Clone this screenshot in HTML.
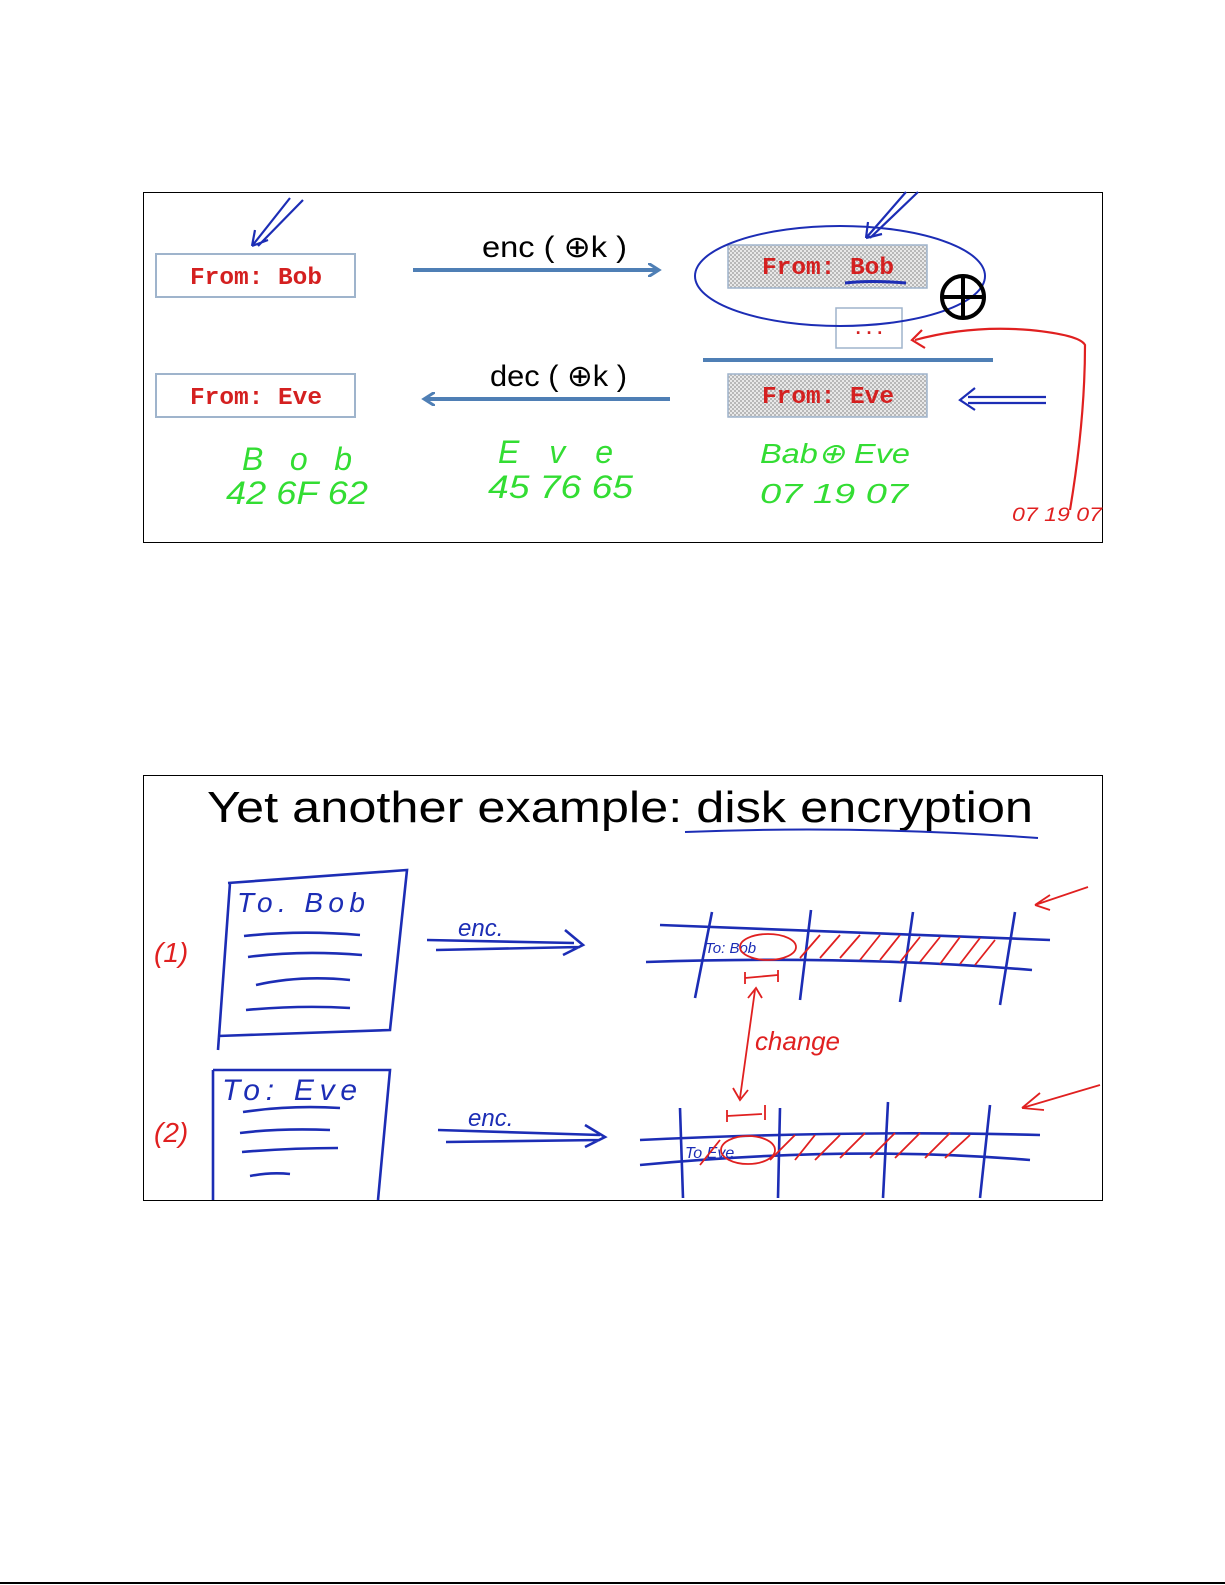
<!DOCTYPE html>
<html><head><meta charset="utf-8"><style>
html,body{margin:0;padding:0;background:#fff;}
svg{display:block;}
</style></head><body>
<svg width="1225" height="1585" viewBox="0 0 1225 1585" xmlns="http://www.w3.org/2000/svg">
<defs>
<pattern id="chk" width="4" height="4" patternUnits="userSpaceOnUse">
<rect width="4" height="4" fill="#e8e8e8"/><rect width="2" height="2" fill="#b8b8b8"/><rect x="2" y="2" width="2" height="2" fill="#b8b8b8"/>
</pattern>
<marker id="ab" markerWidth="14" markerHeight="14" refX="10" refY="7" orient="auto" markerUnits="userSpaceOnUse"><path d="M0,0 L11,7 L0,14" fill="none" stroke="#4f7fb5" stroke-width="3"/></marker>
</defs>
<!-- top slide -->
<rect x="143.5" y="192.5" width="959" height="350" fill="#fff" stroke="#000" stroke-width="1"/>
<g font-family="Liberation Mono, monospace" font-weight="bold" font-size="24" fill="#d42020" text-anchor="middle">
<rect x="156" y="254" width="199" height="43" fill="#fff" stroke="#9fb4cc" stroke-width="2"/>
<text x="256" y="284" textLength="132" lengthAdjust="spacingAndGlyphs">From: Bob</text>
<rect x="156" y="374" width="199" height="43" fill="#fff" stroke="#9fb4cc" stroke-width="2"/>
<text x="256" y="404" textLength="132" lengthAdjust="spacingAndGlyphs">From: Eve</text>
<rect x="728" y="245" width="199" height="43" fill="url(#chk)" stroke="#9fb4cc" stroke-width="1.5"/>
<text x="828" y="274" textLength="132" lengthAdjust="spacingAndGlyphs">From: Bob</text>
<rect x="728" y="374" width="199" height="43" fill="url(#chk)" stroke="#9fb4cc" stroke-width="1.5"/>
<text x="828" y="403" textLength="132" lengthAdjust="spacingAndGlyphs">From: Eve</text>
<rect x="836" y="308" width="66" height="40" fill="#fff" stroke="#9fb4cc" stroke-width="1.5"/>
<text x="869" y="334" font-size="18">...</text>
</g>
<line x1="413" y1="270" x2="658" y2="270" stroke="#4f7fb5" stroke-width="4" marker-end="url(#ab)"/>
<line x1="670" y1="399" x2="425" y2="399" stroke="#4f7fb5" stroke-width="4" marker-end="url(#ab)"/>
<line x1="703" y1="360" x2="993" y2="360" stroke="#4f7fb5" stroke-width="4"/>
<g font-family="Liberation Sans, sans-serif" font-size="30" fill="#000">
<text x="482" y="257" textLength="145" lengthAdjust="spacingAndGlyphs">enc ( ⊕k )</text>
<text x="490" y="386" textLength="137" lengthAdjust="spacingAndGlyphs">dec ( ⊕k )</text>
</g>
<ellipse cx="840" cy="276" rx="145" ry="50" fill="none" stroke="#1c2db5" stroke-width="2"/>
<path d="M845,283 Q870,280 906,283" stroke="#1c2db5" stroke-width="3" fill="none"/>
<circle cx="963" cy="297" r="21" fill="none" stroke="#000" stroke-width="4"/>
<line x1="942" y1="297" x2="984" y2="297" stroke="#000" stroke-width="4"/>
<line x1="963" y1="276" x2="963" y2="318" stroke="#000" stroke-width="4"/>
<g stroke="#1c2db5" stroke-width="2.2" fill="none">
<path d="M303,200 L258,246 M290,198 L252,246 M252,246 L255,230 M252,246 L268,240"/>
<path d="M918,192 L870,238 M906,192 L866,238 M866,238 L868,222 M866,238 L882,234"/>
<path d="M1046,397 L968,397 M1046,403 L968,403 M975,388 L960,400 L975,410"/>
</g>
<path d="M1070,510 Q1085,420 1085,345 Q1080,335 1030,330 Q970,325 915,340 M922,330 L912,340 L925,348" stroke="#e02020" stroke-width="2.2" fill="none"/>
<text x="1012" y="521" font-family="Liberation Sans, sans-serif" font-style="italic" font-size="19" fill="#e02020" textLength="90" lengthAdjust="spacingAndGlyphs">07 19 07</text>
<g font-family="Liberation Sans, sans-serif" font-style="italic" font-size="32" fill="#33dd33">
<text x="242" y="470" textLength="110">B  o  b</text>
<text x="226" y="504" textLength="142" lengthAdjust="spacingAndGlyphs">42 6F 62</text>
<text x="498" y="463" textLength="115">E  v  e</text>
<text x="488" y="498" textLength="145" lengthAdjust="spacingAndGlyphs">45 76 65</text>
<text x="760" y="463" font-size="28" textLength="150" lengthAdjust="spacingAndGlyphs">Bab⊕ Eve</text>
<text x="760" y="503" font-size="28" textLength="148" lengthAdjust="spacingAndGlyphs">07 19 07</text>
</g>
<!-- bottom slide -->
<rect x="143.5" y="775.5" width="959" height="425" fill="#fff" stroke="#000" stroke-width="1"/>
<text x="207" y="822" font-family="Liberation Sans, sans-serif" font-size="44" fill="#000" textLength="826" lengthAdjust="spacingAndGlyphs">Yet another example:  disk encryption</text>
<path d="M685,832 Q860,825 1038,838" stroke="#1c2db5" stroke-width="2" fill="none"/>
<g stroke="#1c2db5" stroke-width="2.6" fill="none">
<path d="M228,883 L407,870 L390,1030 L218,1036 M230,883 L218,1050"/>
<path d="M244,936 Q300,930 360,935 M248,957 Q300,950 362,955 M256,985 Q300,975 350,980 M246,1010 Q300,1005 350,1008"/>
<path d="M213,1070 L390,1070 L378,1200 M213,1070 L213,1200"/>
<path d="M243,1112 Q290,1105 340,1108 M240,1133 Q280,1128 330,1130 M242,1152 Q290,1148 338,1148 M250,1176 Q270,1172 290,1174"/>
<path d="M427,940 L574,943 M436,950 L580,947 M565,930 L583,945 L563,955"/>
<path d="M438,1130 L600,1135 M446,1142 L600,1140 M585,1125 L605,1137 L585,1147"/>
<path d="M660,925 Q850,932 1050,940 M646,962 Q850,955 1032,970"/>
<path d="M712,912 L695,998 M811,910 L800,1000 M913,912 L900,1002 M1015,912 L1000,1005"/>
<path d="M640,1140 Q850,1130 1040,1135 M640,1165 Q850,1145 1030,1160"/>
<path d="M680,1108 L683,1198 M780,1108 L778,1198 M888,1102 L883,1198 M990,1105 L980,1198"/>
</g>
<g font-family="Liberation Sans, sans-serif" font-style="italic" fill="#1c2db5">
<text x="237" y="912" font-size="28" textLength="128">To. Bob</text>
<text x="222" y="1100" font-size="30" textLength="135">To: Eve</text>
<text x="458" y="936" font-size="24">enc.</text>
<text x="468" y="1126" font-size="24">enc.</text>
<text x="705" y="953" font-size="15">To: Bob</text>
<text x="685" y="1158" font-size="16">To Eve</text>
</g>
<g stroke="#e02020" stroke-width="1.8" fill="none">
<ellipse cx="768" cy="947" rx="28" ry="13"/>
<ellipse cx="748" cy="1150" rx="27" ry="14"/>
<path d="M800,958 L820,935 M820,958 L840,935 M840,958 L860,935 M860,960 L880,935 M880,960 L900,935 M900,962 L920,937 M920,962 L940,937 M940,964 L960,937 M960,964 L980,938 M975,965 L995,940"/>
<path d="M700,1165 L720,1140 M770,1160 L795,1135 M795,1160 L815,1135 M815,1160 L840,1135 M840,1158 L865,1133 M870,1158 L895,1133 M895,1158 L920,1133 M925,1158 L950,1133 M945,1158 L970,1135"/>
<path d="M745,978 L778,975 M745,972 L745,984 M778,970 L778,982"/>
<path d="M727,1116 L762,1114 M727,1110 L727,1122 M765,1105 L765,1120"/>
<path d="M755,990 L740,1098 M748,998 L756,988 L762,998 M733,1088 L740,1100 L748,1090"/>
<path d="M1088,887 L1035,905 M1035,905 L1050,895 M1035,905 L1050,910"/>
<path d="M1100,1085 L1022,1108 M1022,1108 L1040,1093 M1022,1108 L1044,1110"/>
</g>
<g font-family="Liberation Sans, sans-serif" font-style="italic" fill="#e02020">
<text x="755" y="1050" font-size="26" textLength="85">change</text>
<text x="154" y="962" font-size="28">(1)</text>
<text x="154" y="1142" font-size="28">(2)</text>
</g>
<line x1="0" y1="1583" x2="1225" y2="1583" stroke="#000" stroke-width="2"/>
</svg>
</body></html>
